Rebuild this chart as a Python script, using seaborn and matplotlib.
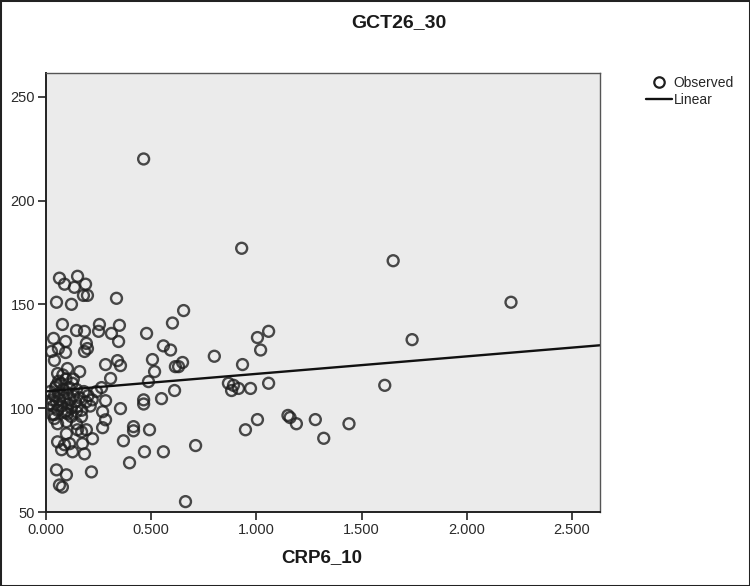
import matplotlib
matplotlib.use("Agg")
import matplotlib.pyplot as plt
from matplotlib.lines import Line2D
from matplotlib.patches import Rectangle
from matplotlib.ticker import FormatStrFormatter
import seaborn as sns
import pandas as pd

title = "GCT26_30"
x_label = "CRP6_10"
legend_labels = ["Observed", "Linear"]
x_ticks = [0.0, 0.5, 1.0, 1.5, 2.0, 2.5]
y_ticks = [50, 100, 150, 200, 250]

# right / middle region
crp_mid = [0.464, 0.93, 1.65, 2.21, 1.74, 1.61, 1.058, 1.005, 1.02, 0.934, 0.80,
           0.867, 0.891, 0.882, 0.915, 0.972, 1.058, 0.611, 0.549, 1.005, 0.948,
           0.558, 0.711, 0.663, 1.15, 1.16, 1.19, 1.28, 1.32, 1.44, 0.654, 0.601,
           0.558, 0.592, 0.649, 0.615, 0.63, 0.478, 0.506, 0.516, 0.487, 0.464,
           0.464, 0.492, 0.468]
gct_mid = [220, 177, 171, 151, 133, 111, 137, 134, 128, 121, 125,
           112, 111, 108.5, 109.5, 109.5, 112, 108.5, 104.6, 94.5, 89.6,
           79, 82, 55, 96.5, 95.5, 92.5, 94.5, 85.5, 92.5, 147, 141,
           130, 128, 122, 120, 120, 136, 123.4, 117.6, 112.8, 104,
           102, 89.6, 79]

# 0.25 - 0.42 band
crp_band = [0.416, 0.416, 0.368, 0.397, 0.354, 0.307, 0.264, 0.283, 0.269, 0.283,
            0.269, 0.335, 0.254, 0.25, 0.349, 0.311, 0.345, 0.283, 0.34, 0.354]
gct_band = [91.1, 89.1, 84.3, 73.7, 99.8, 114.3, 109.9, 103.6, 98.3, 94.4,
            90.6, 152.9, 140.3, 137, 139.9, 136, 132.1, 121, 122.9, 120.5]

# near-zero, upper
crp_up = [0.064, 0.088, 0.15, 0.135, 0.188, 0.178, 0.197, 0.05, 0.121, 0.078,
          0.145, 0.183, 0.036, 0.093, 0.026, 0.059, 0.093, 0.192, 0.183, 0.197,
          0.04, 0.102, 0.055, 0.16]
gct_up = [162.6, 159.7, 163.5, 158.2, 159.7, 154.3, 154.3, 151, 150, 140.3,
          137.4, 137, 133.6, 132.1, 127.3, 128.7, 126.8, 131.2, 127.3, 128.7,
          123, 119.1, 116.7, 117.6]

# near-zero, lower
crp_low = [0.04, 0.055, 0.102, 0.145, 0.169, 0.097, 0.145, 0.15, 0.169, 0.192,
           0.097, 0.221, 0.055, 0.088, 0.112, 0.074, 0.126, 0.173, 0.183, 0.05,
           0.097, 0.216, 0.064, 0.078]
gct_low = [96.9, 92.5, 97.3, 98.3, 95.9, 93.5, 92.5, 89.6, 88.6, 89.6,
           87.7, 85.3, 83.8, 82.4, 82.9, 80, 79, 82.9, 78, 70.3,
           67.9, 69.3, 63, 62]

# dense cluster near zero
crp_dense = [0.02, 0.03, 0.035, 0.04, 0.045, 0.05, 0.055, 0.06, 0.065, 0.07,
             0.075, 0.08, 0.085, 0.09, 0.095, 0.10, 0.105, 0.11, 0.115, 0.12,
             0.125, 0.13, 0.14, 0.145, 0.15, 0.16, 0.17, 0.18, 0.19, 0.20,
             0.21, 0.22, 0.24, 0.06, 0.03, 0.04, 0.08, 0.12, 0.05, 0.10,
             0.13, 0.015]
gct_dense = [108, 104, 101, 106, 110, 103, 99, 107, 104, 112,
             101, 109, 105, 98, 114, 107, 102, 110, 104, 100,
             112, 106, 103, 109, 101, 105, 99, 108, 103, 106,
             101, 104, 108, 113, 97, 95, 116, 96, 111, 99,
             114, 102]

df = pd.DataFrame({
    "CRP6_10": crp_mid + crp_band + crp_up + crp_low + crp_dense,
    "GCT26_30": gct_mid + gct_band + gct_up + gct_low + gct_dense,
})

sns.set_style("white")
plt.rcParams["font.family"] = ["Liberation Sans", "DejaVu Sans"]

fig = plt.figure(figsize=(7.5, 5.86), dpi=100)
ax = fig.add_axes([46 / 750, 1 - 512 / 586, (600 - 46) / 750, (512 - 73) / 586])
ax.set_facecolor("#ebebeb")
ax.set_xlim(0, 2.633)
ax.set_ylim(50, 261.4)

sns.regplot(data=df, x="CRP6_10", y="GCT26_30", ax=ax, ci=None, truncate=False,
            scatter_kws=dict(s=62, facecolors="none", edgecolors="#1e1e1e", linewidths=1.7),
            line_kws=dict(color="#111111", lw=1.7))

ax.set_xlim(0, 2.633)
ax.set_ylim(50, 261.4)
ax.set_xticks(x_ticks)
ax.set_yticks(y_ticks)
ax.xaxis.set_major_formatter(FormatStrFormatter("%.3f"))
ax.tick_params(axis="both", direction="out", length=6, width=1.2, color="#222222",
               labelsize=10.5, labelcolor="#2a2a2a", pad=2,
               bottom=True, left=True)
ax.set_xlabel("")
ax.set_ylabel("")
for side in ["left", "bottom"]:
    ax.spines[side].set_color("#222222")
    ax.spines[side].set_linewidth(1.4)
for side in ["top", "right"]:
    ax.spines[side].set_color("#555555")
    ax.spines[side].set_linewidth(1.0)

fig.text(399 / 750, 1 - 23 / 586, title, ha="center", va="center",
         fontsize=14, fontweight="bold", color="#1a1a1a")
fig.text(322 / 750, 1 - 558 / 586, x_label, ha="center", va="center",
         fontsize=13.5, fontweight="bold", color="#1a1a1a")

handles = [
    Line2D([], [], marker="o", ls="none", mfc="none", mec="#1e1e1e", mew=1.6, ms=7.5),
    Line2D([], [], color="#111111", lw=1.7),
]
fig.legend(handles, legend_labels, loc="upper left", bbox_to_anchor=(646 / 750, 1 - 76 / 586),
           frameon=False, fontsize=10, handlelength=1.9, handletextpad=0.1,
           labelspacing=0.2, borderaxespad=0, borderpad=0)

fig.patches.append(Rectangle((0, 0), 1, 1, transform=fig.transFigure, fill=False,
                             edgecolor="#222222", lw=2.2, zorder=10))

fig.savefig("out.png", dpi=100)
